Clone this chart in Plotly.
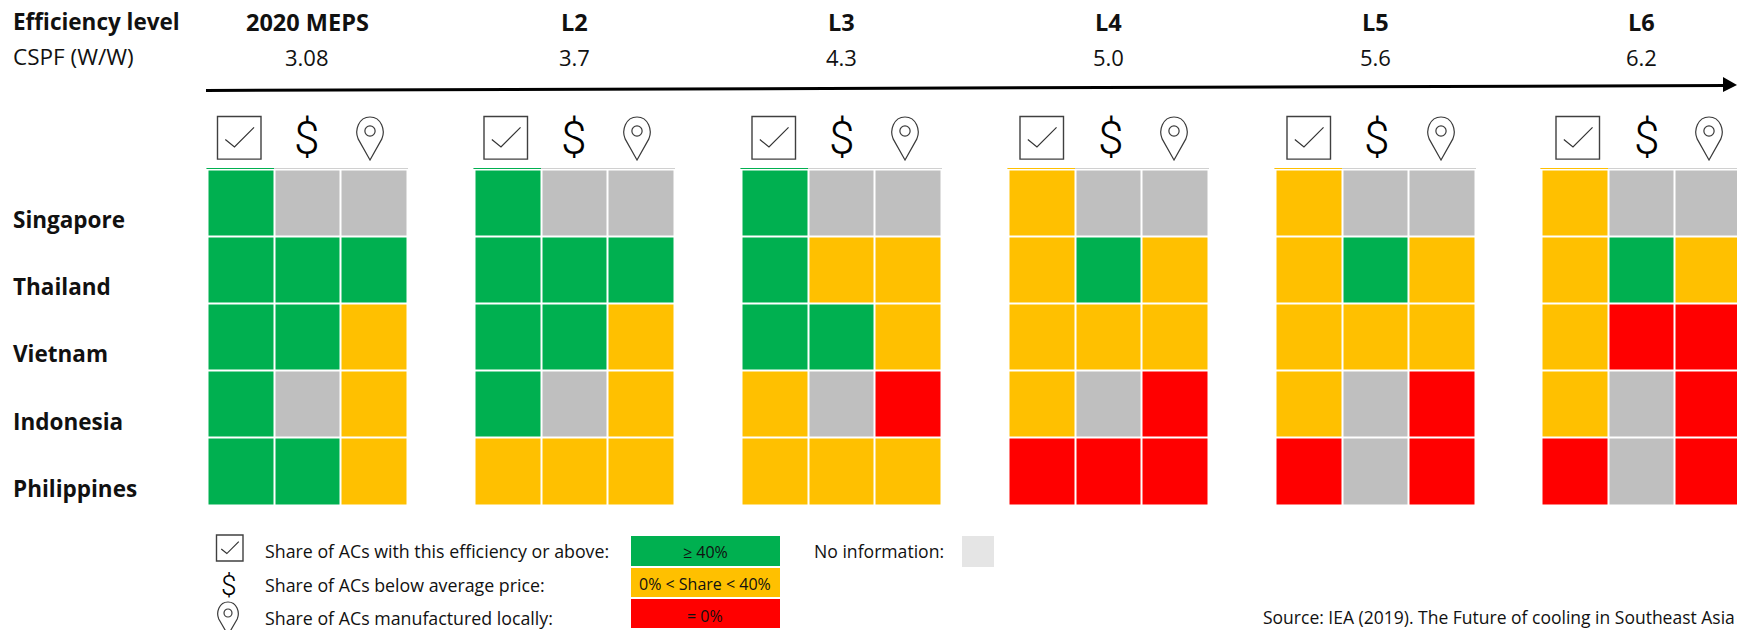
import plotly.graph_objects as go

countries = ["Singapore", "Thailand", "Vietnam", "Indonesia", "Philippines"]
levels = ["2020 MEPS", "L2", "L3", "L4", "L5", "L6"]
cspf = ["3.08", "3.7", "4.3", "5.0", "5.6", "6.2"]
# 0 = no information, 1 = 0%, 2 = 0%<share<40%, 3 = >=40%
meps = [[3, 0, 0], [3, 3, 3], [3, 3, 2], [3, 0, 2], [3, 3, 2]]
l2 = [[3, 0, 0], [3, 3, 3], [3, 3, 2], [3, 0, 2], [2, 2, 2]]
l3 = [[3, 0, 0], [3, 2, 2], [3, 3, 2], [2, 0, 1], [2, 2, 2]]
l4 = [[2, 0, 0], [2, 3, 2], [2, 2, 2], [2, 0, 1], [1, 1, 1]]
l5 = [[2, 0, 0], [2, 3, 2], [2, 2, 2], [2, 0, 1], [1, 0, 1]]
l6 = [[2, 0, 0], [2, 3, 2], [2, 1, 1], [2, 0, 1], [1, 0, 1]]
tables = [meps, l2, l3, l4, l5, l6]

COLORS = ["#BFBFBF", "#FF0000", "#FFC000", "#00B050"]
FONT = "Open Sans"
DOLLAR_FONT = "Roboto"
INK = "#111111"

group_left = [207.5, 474.5, 741.5, 1008.5, 1275.5, 1541.5]
group_center = [307, 574, 841, 1108, 1375, 1641]
check_left = [217.5, 484, 752, 1020, 1287, 1556]
dollar_x = [307, 574, 842, 1111, 1377, 1647]
pin_x = [370, 637, 905, 1174, 1441, 1709]
CELL_W, CELL_H, TOP = 66.5, 67.1, 169.5

colorscale = []
for i, c in enumerate(COLORS):
    colorscale += [[i / 4, c], [(i + 1) / 4, c]]

fig = go.Figure()
for t, left in zip(tables, group_left):
    fig.add_trace(go.Heatmap(
        z=t, x0=left + CELL_W / 2, dx=CELL_W, y0=TOP + CELL_H / 2, dy=CELL_H,
        zmin=0, zmax=4, colorscale=colorscale, showscale=False, xgap=2, ygap=2,
        hoverinfo="skip"))

shapes, ann = [], []

def text(x, y, s, size=16, bold=False, anchor="left", color=INK, family=FONT, weight=None):
    f = dict(family=family, size=size, color=color)
    if weight:
        f["weight"] = weight
    ann.append(dict(x=x, y=y, xref="x", yref="y", text=f"<b>{s}</b>" if bold else s,
                    showarrow=False, xanchor=anchor, yanchor="middle", align=anchor, font=f))

def line(x0, y0, x1, y1, color, width):
    shapes.append(dict(type="line", x0=x0, y0=y0, x1=x1, y1=y1, xref="x", yref="y",
                       line=dict(color=color, width=width)))

def rect(x0, y0, x1, y1, color):
    shapes.append(dict(type="rect", x0=x0, y0=y0, x1=x1, y1=y1, xref="x", yref="y",
                       fillcolor=color, line=dict(width=0)))

def check_icon(x, y, s):
    shapes.append(dict(type="rect", x0=x, y0=y, x1=x + s, y1=y + s * 0.98, xref="x", yref="y",
                       line=dict(color="#404040", width=1.4)))
    shapes.append(dict(type="path", xref="x", yref="y",
                       path=f"M {x+s*0.18} {y+s*0.53} L {x+s*0.39} {y+s*0.7} L {x+s*0.84} {y+s*0.25}",
                       line=dict(color="#333333", width=1.2)))

def pin_icon(cx, top, w, h):
    b = top + h
    hw = w / 2
    cy = top + hw
    r = w * 0.19
    p = (f"M {cx} {b} L {cx-hw*0.88} {cy+hw*0.62} "
         f"C {cx-hw*1.15} {cy}, {cx-hw*0.85} {top}, {cx} {top} "
         f"C {cx+hw*0.85} {top}, {cx+hw*1.15} {cy}, {cx+hw*0.88} {cy+hw*0.62} Z")
    shapes.append(dict(type="path", path=p, xref="x", yref="y", line=dict(color="#3a3a3a", width=1.2)))
    shapes.append(dict(type="circle", x0=cx - r, x1=cx + r, y0=cy - r + 0.5, y1=cy + r + 0.5,
                       xref="x", yref="y", line=dict(color="#3a3a3a", width=1.2)))

# header
text(10.5, 21, "Efficiency level", 22.5, True)
text(10.5, 56, "CSPF (W/W)", 22.5)
for c, lv, v in zip(group_center, levels, cspf):
    text(c, 22, lv, 23.5, True, "center")
    text(c, 57, v, 22, False, "center")
for y, c in zip([219, 286, 353, 421, 488], countries):
    text(10.5, y, c, 22.5, True)

# arrow
line(206, 90.5, 1726, 85.5, "#000000", 3)
shapes.append(dict(type="path", path="M 1723 77 L 1737 85 L 1723 92 Z", xref="x", yref="y",
                   fillcolor="#000000", line=dict(width=0)))

# icons and top rule
for i, t in enumerate(tables):
    left = group_left[i]
    check_icon(check_left[i], 116.5, 43.5)
    text(dollar_x[i], 138, "$", 46, False, "center", "#000000", DOLLAR_FONT, 300)
    pin_icon(pin_x[i], 117, 27, 43)
    line(left - 1, 168.5, left + 3 * CELL_W + 1, 168.5, "#D0D0D0", 1)
    line(left - 1, 168.5, left + CELL_W, 168.5, COLORS[t[0][0]], 1)

# legend
rect(631, 536, 780, 566, COLORS[3])
rect(631, 568, 780, 597, COLORS[2])
rect(631, 599, 780, 628, COLORS[1])
rect(962, 536, 994, 567, "#E5E5E5")
text(705, 552, "≥ 40%", 16, False, "center")
text(705, 584, "0% &lt; Share &lt; 40%", 16, False, "center")
text(705, 616, "= 0%", 16, False, "center")
text(262.5, 551, "Share of ACs with this efficiency or above:", 17.8)
text(262.5, 585, "Share of ACs below average price:", 17.8)
text(262.5, 618, "Share of ACs manufactured locally:", 17.8)
text(811.5, 551, "No information:", 17.6)
check_icon(216.5, 535, 26.5)
text(229, 585, "$", 28, False, "center", "#000000", DOLLAR_FONT, 300)
pin_icon(228, 602, 21, 33)
text(1261, 617, "Source: IEA (2019). The Future of cooling in Southeast Asia", 17.5)

fig.update_layout(
    width=1737, height=630, autosize=False, margin=dict(l=0, r=0, t=0, b=0),
    paper_bgcolor="white", plot_bgcolor="white", showlegend=False,
    shapes=shapes, annotations=ann,
    xaxis=dict(range=[0, 1737], visible=False, fixedrange=True),
    yaxis=dict(range=[630, 0], visible=False, fixedrange=True),
)
fig.write_html("out.html", config={"displayModeBar": False},
               post_script="document.body.style.margin='0';document.documentElement.style.overflow='hidden';")
